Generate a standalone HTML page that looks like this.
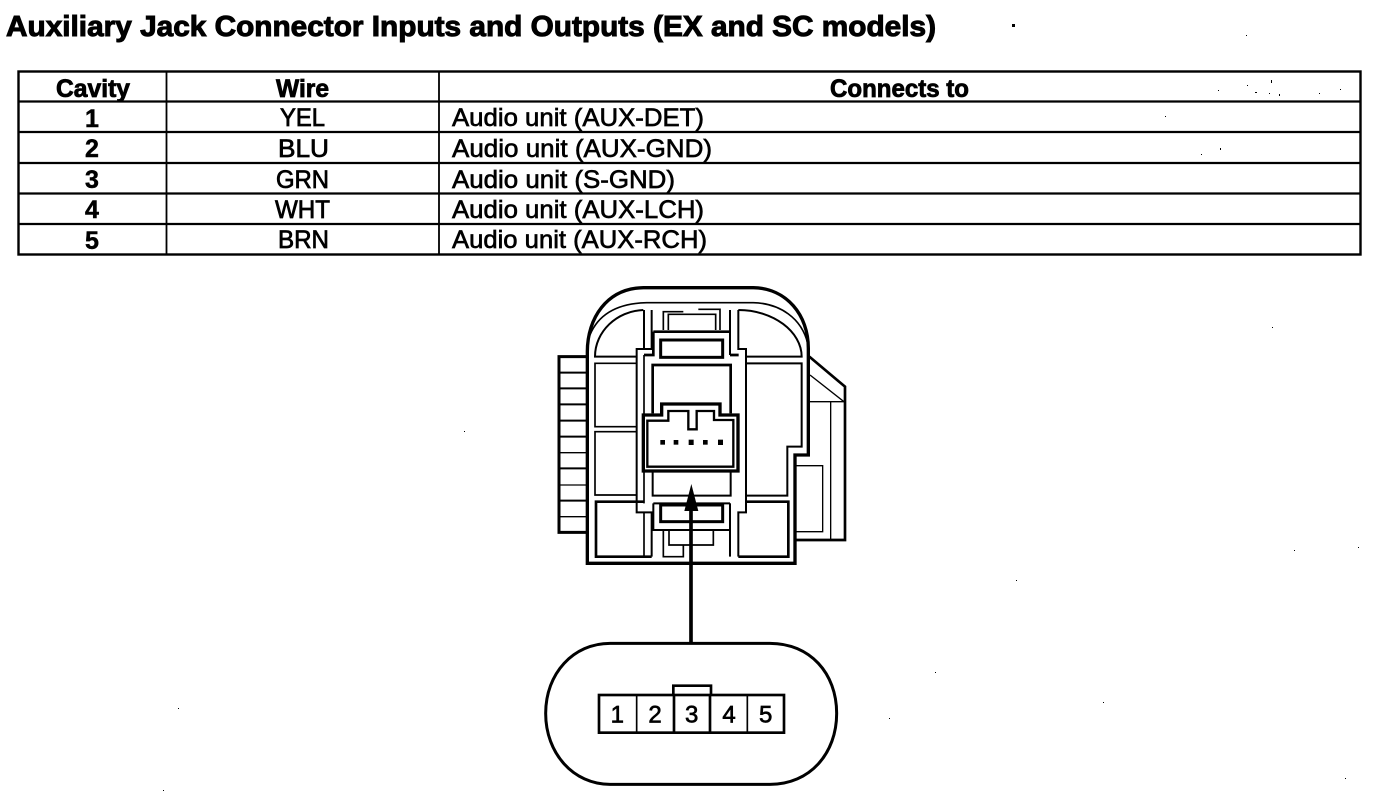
<!DOCTYPE html>
<html><head><meta charset="utf-8"><style>
html,body{margin:0;padding:0;background:#fff}
svg{display:block}
text{font-family:"Liberation Sans",sans-serif;fill:#000}
.t{font-weight:bold;font-size:29px;stroke:#000;stroke-width:1px}
.b{font-weight:bold;font-size:25px;stroke:#000;stroke-width:.8px}
.r{font-size:25px;stroke:#000;stroke-width:.65px}
.c{font-weight:bold;font-size:25px;stroke:#000;stroke-width:.5px;text-anchor:middle}
.w{font-size:25px;stroke:#000;stroke-width:.75px}
</style></head><body>
<svg width="1392" height="794" viewBox="0 0 1392 794" xmlns="http://www.w3.org/2000/svg">
<rect width="1392" height="794" fill="#fff"/>
<text class="t" x="6" y="36" textLength="930" lengthAdjust="spacingAndGlyphs">Auxiliary Jack Connector Inputs and Outputs (EX and SC models)</text>

<g fill="none" stroke="#000">
<rect x="18.500" y="71.500" width="1342" height="183" stroke-width="2.400"/>
<path d="M18 101.500H1360M18 132H1360M18 163H1360M18 193.500H1360M18 224H1360" stroke-width="2.200"/>
<path d="M166.500 71V254M439 71V254" stroke-width="1.800"/>
</g>

<text class="b" x="56" y="97" textLength="74" lengthAdjust="spacingAndGlyphs">Cavity</text>
<text class="b" x="276" y="97" textLength="53" lengthAdjust="spacingAndGlyphs">Wire</text>
<text class="b" x="830" y="97" textLength="139" lengthAdjust="spacingAndGlyphs">Connects to</text>

<text class="c" x="92" y="127">1</text>
<text class="c" x="92" y="157">2</text>
<text class="c" x="92" y="188">3</text>
<text class="c" x="92" y="218">4</text>
<text class="c" x="92" y="249">5</text>

<text class="w" x="280" y="126" textLength="45" lengthAdjust="spacingAndGlyphs">YEL</text>
<text class="w" x="278" y="157" textLength="51" lengthAdjust="spacingAndGlyphs">BLU</text>
<text class="w" x="276" y="188" textLength="53" lengthAdjust="spacingAndGlyphs">GRN</text>
<text class="w" x="275" y="218" textLength="55" lengthAdjust="spacingAndGlyphs">WHT</text>
<text class="w" x="278" y="248" textLength="51" lengthAdjust="spacingAndGlyphs">BRN</text>

<text class="r" x="452" y="126" textLength="252" lengthAdjust="spacingAndGlyphs">Audio unit (AUX-DET)</text>
<text class="r" x="452" y="157" textLength="260" lengthAdjust="spacingAndGlyphs">Audio unit (AUX-GND)</text>
<text class="r" x="452" y="188" textLength="223" lengthAdjust="spacingAndGlyphs">Audio unit (S-GND)</text>
<text class="r" x="452" y="218" textLength="252" lengthAdjust="spacingAndGlyphs">Audio unit (AUX-LCH)</text>
<text class="r" x="452" y="248" textLength="255" lengthAdjust="spacingAndGlyphs">Audio unit (AUX-RCH)</text>

<!-- connector, in zoomed coordinates -->
<g transform="translate(540 275) scale(.33333)" fill="none" stroke="#000" stroke-linejoin="miter">
<path d="M142 865V230C142 130 200 40 310 38H640C740 40 805 120 805 220V540H765V865Z" stroke-width="10"/>
<path d="M146 190C170 120 230 85 320 83H640C720 85 785 130 803 205" stroke-width="5"/>

<!-- left ribs -->
<path d="M142 245H57V772H142" stroke-width="9"/>
<path d="M57 293H140M57 340H140M57 388H140M57 437H140M57 485H140M57 580H140M57 677H140" stroke-width="6"/>
<path d="M57 533H140M57 630H140M57 725H140" stroke-width="4"/>

<!-- right tab -->
<path d="M808 245L915 335V795H765" stroke-width="8"/>
<path d="M810 300L912 380H810M872 380V795M768 572H848V770H768" stroke-width="4"/>

<!-- compartments -->
<path d="M310 105C230 108 165 170 165 245H288" stroke-width="6"/>
<path d="M288 265H165V455H288M288 470H165V660H288" stroke-width="5"/>
<path d="M312 680H168V845H335" stroke-width="8"/>
<path d="M595 105C700 105 785 170 785 245H618" stroke-width="6"/>
<path d="M618 265H785V515H742V662H618" stroke-width="6"/>
<path d="M595 845H745V680H618" stroke-width="8"/>

<!-- central column -->
<path d="M312 105V220M335 105V222H290V712H335V845" stroke-width="6"/>
<path d="M312 240V685H312M312 712V845" stroke-width="5"/>
<path d="M570 105V240M595 105V222H618V712H595V845M570 685V845" stroke-width="6"/>
<path d="M340 170H572M340 170V240H312M570 240H596" stroke-width="8"/>
<rect x="362" y="195" width="186" height="52" stroke-width="9"/>
<path d="M370 165V110H430M385 165V118H527V165M475 103H540V165" stroke-width="5"/>
<path d="M338 415V270H572V415" stroke-width="8"/>
<path d="M338 590V662H572V590" stroke-width="6"/>

<!-- plug -->
<path d="M310 588V420H365V387H540V420H594V588Z" stroke-width="10" fill="#fff"/>
<path d="M322 575V437H385V408H445V463H470V408H522V435H580V575Z" stroke-width="7"/>
<g fill="#000" stroke="none">
<rect x="361" y="495" width="14" height="14"/>
<rect x="401" y="495" width="14" height="14"/>
<rect x="446" y="494" width="15" height="16"/>
<rect x="489" y="495" width="14" height="14"/>
<rect x="534" y="494" width="15" height="16"/>
</g>

<!-- lower -->
<path d="M340 685H570M340 685V765H570V685" stroke-width="6"/>
<rect x="362" y="690" width="186" height="50" stroke-width="9"/>
<path d="M370 768V845H430V812M387 768V810H520V768" stroke-width="5"/>

<!-- arrow -->
<path d="M453 695V1103" stroke-width="11"/>
<path d="M454 627L433 708H475Z" fill="#000" stroke="none"/>
</g>

<!-- stadium -->
<g transform="translate(530 630) scale(.33333)" fill="none" stroke="#000">
<path d="M240 40H720C840 40 920 130 920 250C920 370 840 463 720 463H240C130 463 47 370 47 250C47 130 130 40 240 40Z" stroke-width="9"/>
<rect x="207" y="195" width="555" height="113" stroke-width="8"/>
<path d="M320 195V308M652 195V308" stroke-width="5"/>
<path d="M432 195V308M540 195V308" stroke-width="8"/>
<path d="M430 195V167H543V195" stroke-width="8"/>
<g>
<text x="262" y="277" text-anchor="middle" stroke="#000" stroke-width="2" style="font-size:72px">1</text>
<text x="375" y="277" text-anchor="middle" stroke="#000" stroke-width="2" style="font-size:72px">2</text>
<text x="485" y="277" text-anchor="middle" stroke="#000" stroke-width="2" style="font-size:72px">3</text>
<text x="597" y="277" text-anchor="middle" stroke="#000" stroke-width="2" style="font-size:72px">4</text>
<text x="707" y="277" text-anchor="middle" stroke="#000" stroke-width="2" style="font-size:72px">5</text>
</g>
</g>

<!-- specks -->
<g fill="#000">
<rect x="1012" y="24" width="3" height="3"/><rect x="1246" y="35" width="1" height="1"/>
<rect x="1271" y="80" width="1" height="3"/><rect x="1218" y="90" width="1" height="1"/>
<rect x="1247" y="85" width="1" height="1"/><rect x="1255" y="92" width="2" height="1"/>
<rect x="1269" y="93" width="1" height="1"/><rect x="1279" y="94" width="1" height="2"/>
<rect x="1319" y="93" width="1" height="1"/><rect x="1340" y="89" width="1" height="1"/>
<rect x="1165" y="116" width="1" height="1"/><rect x="1220" y="148" width="1" height="2"/>
<rect x="1201" y="154" width="1" height="1"/><rect x="1272" y="327" width="1" height="1"/>
<rect x="464" y="431" width="1" height="1"/><rect x="1294" y="550" width="1" height="1"/>
<rect x="1358" y="547" width="1" height="1"/><rect x="1345" y="778" width="1" height="1"/>
<rect x="889" y="718" width="1" height="1"/><rect x="935" y="672" width="1" height="1"/>
<rect x="163" y="790" width="1" height="1"/><rect x="178" y="708" width="1" height="1"/>
<rect x="1103" y="702" width="1" height="1"/><rect x="1016" y="580" width="1" height="1"/>
</g>
</svg>
</body></html>
